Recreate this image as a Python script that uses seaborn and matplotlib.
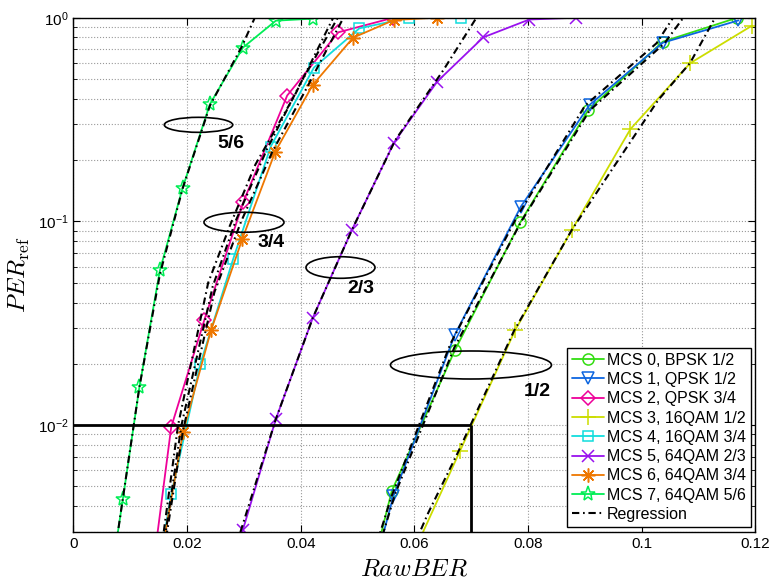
import seaborn as sns
import matplotlib.pyplot as plt
from matplotlib.patches import Ellipse
from matplotlib.ticker import NullFormatter

# Valores: RawBER (x) e PER_ref (y) de cada MCS
labels_mcs = ['MCS 0, BPSK 1/2', 'MCS 1, QPSK 1/2', 'MCS 2, QPSK 3/4', 'MCS 3, 16QAM 1/2',
              'MCS 4, 16QAM 3/4', 'MCS 5, 64QAM 2/3', 'MCS 6, 64QAM 3/4', 'MCS 7, 64QAM 5/6']

ber_mcs0 = [0.0520, 0.0560, 0.0671, 0.0786, 0.0906, 0.1037, 0.1168]
per_mcs0 = [0.0017, 0.00475, 0.0233, 0.0989, 0.353, 0.763, 1.0]
ber_mcs1 = [0.0520, 0.0563, 0.0671, 0.0787, 0.0908, 0.1037, 0.1170]
per_mcs1 = [0.0016, 0.0045, 0.0278, 0.118, 0.373, 0.754, 0.97]
ber_mcs2 = [0.0140, 0.0172, 0.0230, 0.0299, 0.0376, 0.0466, 0.0563]
per_mcs2 = [0.0020, 0.0098, 0.0327, 0.125, 0.415, 0.848, 1.0]
ber_mcs3 = [0.0590, 0.0680, 0.0777, 0.0877, 0.0980, 0.1085, 0.1193]
per_mcs3 = [0.0021, 0.00746, 0.0292, 0.091, 0.284, 0.598, 0.911]
ber_mcs4 = [0.0150, 0.0172, 0.0223, 0.0281, 0.0347, 0.0423, 0.0503, 0.0590, 0.0681]
per_mcs4 = [0.0020, 0.00457, 0.0199, 0.0654, 0.233, 0.569, 0.887, 1.0, 1.0]
ber_mcs5 = [0.0270, 0.0298, 0.0356, 0.0421, 0.0490, 0.0564, 0.0640, 0.0721, 0.0802, 0.0884]
per_mcs5 = [0.00167, 0.00306, 0.0107, 0.0336, 0.091, 0.244, 0.486, 0.801, 0.98, 1.0]
ber_mcs6 = [0.0150, 0.0193, 0.0242, 0.0297, 0.0355, 0.0421, 0.0492, 0.0564, 0.0640]
per_mcs6 = [0.00195, 0.0093, 0.0292, 0.082, 0.220, 0.468, 0.798, 0.975, 1.0]
ber_mcs7 = [0.0060, 0.0087, 0.0116, 0.0152, 0.0192, 0.0240, 0.0298, 0.0356, 0.0422]
per_mcs7 = [0.00138, 0.00436, 0.0154, 0.0575, 0.146, 0.376, 0.713, 0.967, 0.99]

# curvas de regressao
reg_ber_mcs0 = [0.0535, 0.0566, 0.0670, 0.0788, 0.0908, 0.1040, 0.1073]
reg_per_mcs0 = [0.0024, 0.0046, 0.024, 0.10, 0.35, 0.75, 1.0]
reg_ber_mcs1 = [0.0525, 0.0560, 0.0663, 0.0780, 0.0900, 0.1026, 0.1055]
reg_per_mcs1 = [0.0022, 0.0045, 0.025, 0.105, 0.37, 0.75, 1.0]
reg_ber_mcs2 = [0.0155, 0.0184, 0.0237, 0.0275, 0.0320, 0.0390, 0.0457]
reg_per_mcs2 = [0.0025, 0.01, 0.05, 0.095, 0.19, 0.42, 1.0]
reg_ber_mcs3 = [0.0600, 0.0624, 0.0677, 0.0775, 0.0877, 0.1029, 0.1085, 0.1129]
reg_per_mcs3 = [0.0026, 0.0037, 0.0074, 0.029, 0.091, 0.395, 0.6, 1.0]
reg_ber_mcs4 = [0.0160, 0.0190, 0.0245, 0.0285, 0.0340, 0.0400, 0.0465]
reg_per_mcs4 = [0.0027, 0.01, 0.048, 0.10, 0.225, 0.48, 1.0]
reg_ber_mcs5 = [0.0285, 0.0356, 0.0421, 0.0490, 0.0566, 0.0651, 0.0709]
reg_per_mcs5 = [0.0025, 0.0107, 0.0336, 0.091, 0.25, 0.554, 1.0]
reg_ber_mcs6 = [0.0163, 0.0193, 0.0248, 0.0295, 0.0350, 0.0410, 0.0475]
reg_per_mcs6 = [0.0028, 0.0095, 0.045, 0.10, 0.22, 0.45, 1.0]
reg_ber_mcs7 = [0.0075, 0.0087, 0.0116, 0.0152, 0.0192, 0.0240, 0.0296, 0.0319]
reg_per_mcs7 = [0.0026, 0.0044, 0.0154, 0.055, 0.145, 0.37, 0.72, 1.0]

per_alvo = 0.01
ber_limite = 0.07

x_ticks = [0, 0.02, 0.04, 0.06, 0.08, 0.10, 0.12]
x_tick_labels = ['0', '0.02', '0.04', '0.06', '0.08', '0.1', '0.12']
y_ticks = [1e-2, 1e-1, 1]
y_tick_labels = [r'$\mathregular{10^{-2}}$', r'$\mathregular{10^{-1}}$', r'$\mathregular{10^{0}}$']
taxas = ['5/6', '3/4', '2/3', '1/2']

sns.set_style('ticks')
plt.rcParams['font.family'] = ['Liberation Sans', 'DejaVu Sans']
plt.rcParams['mathtext.fontset'] = 'cm'
plt.rcParams['text.color'] = 'k'
plt.rcParams['axes.labelcolor'] = 'k'

cores = ['#33dd11', '#0d66e0', '#ee0099', '#ccdd00', '#11dddd', '#9911ee', '#ee7700', '#00ee55']
marcadores = ['o', 'v', 'D', '+', 's', 'x', (8, 2, 0), '*']
tamanhos = [8, 9, 7, 11, 7, 8, 10, 11]

bers = [ber_mcs0, ber_mcs1, ber_mcs2, ber_mcs3, ber_mcs4, ber_mcs5, ber_mcs6, ber_mcs7]
pers = [per_mcs0, per_mcs1, per_mcs2, per_mcs3, per_mcs4, per_mcs5, per_mcs6, per_mcs7]
reg_bers = [reg_ber_mcs0, reg_ber_mcs1, reg_ber_mcs2, reg_ber_mcs3,
            reg_ber_mcs4, reg_ber_mcs5, reg_ber_mcs6, reg_ber_mcs7]
reg_pers = [reg_per_mcs0, reg_per_mcs1, reg_per_mcs2, reg_per_mcs3,
            reg_per_mcs4, reg_per_mcs5, reg_per_mcs6, reg_per_mcs7]

fig, ax = plt.subplots(figsize=(7.72, 5.81), dpi=100)
fig.subplots_adjust(left=0.0952, right=0.9786, bottom=0.0849, top=0.9695)

for lab, b, p, cor, mk, ms in zip(labels_mcs, bers, pers, cores, marcadores, tamanhos):
    sns.lineplot(x=b, y=p, color=cor, marker=mk, markersize=ms, mec=cor, mfc='none', mew=1.1,
                 lw=1.3, sort=False, estimator=None, ax=ax, label=lab, zorder=2)

for i, (b, p) in enumerate(zip(reg_bers, reg_pers)):
    sns.lineplot(x=b, y=p, color='k', lw=1.5, linestyle=(0, (3.5, 1.8, 0.8, 1.8)), sort=False,
                 estimator=None, ax=ax, label='Regression' if i == 0 else None, zorder=3)

ax.set_yscale('log')
ax.set_xlim(0, 0.12)
ax.set_ylim(0.003, 1)

# limites de PER alvo
ax.hlines(per_alvo, 0, ber_limite, colors='k', lw=2, zorder=4)
ax.vlines(ber_limite, 0.003, per_alvo, colors='k', lw=2, zorder=4)

ax.set_xticks(x_ticks, labels=x_tick_labels)
ax.set_yticks(y_ticks, labels=y_tick_labels)
ax.yaxis.set_minor_formatter(NullFormatter())
ax.tick_params(which='both', direction='in', top=True, right=True, labelsize=11, colors='k')
ax.tick_params(which='major', length=5)
ax.tick_params(which='minor', length=3)
ax.grid(True, which='major', ls=':', color='#999999', lw=0.8)
ax.grid(True, which='minor', axis='y', ls=':', color='#999999', lw=0.8)
for s in ax.spines.values():
    s.set_color('k')
    s.set_linewidth(1.0)

ax.set_xlabel(r'$RawBER$', fontsize=18)
ax.set_ylabel(r'$PER_{\rm ref}$', fontsize=18)

# elipses agrupando as taxas de codificacao
elipses = [(0.1833, 0.7916, 0.1003, 0.0292), (0.25, 0.602, 0.1173, 0.0389),
           (0.3915, 0.514, 0.1012, 0.042), (0.5828, 0.3243, 0.2361, 0.0545)]
pos_txt = [(0.2309, 0.7562), (0.2896, 0.5636), (0.4216, 0.4738), (0.6796, 0.2737)]
for (cx, cy, w, h), (tx, ty), t in zip(elipses, pos_txt, taxas):
    ax.add_patch(Ellipse((cx, cy), w, h, transform=ax.transAxes, fill=False, ec='k', lw=1.2, zorder=5))
    ax.text(tx, ty, t, transform=ax.transAxes, ha='center', va='center', fontsize=14,
            fontweight='bold', color='k', zorder=5)

handles, labels = ax.get_legend_handles_labels()
leg = ax.legend(handles, labels, loc='lower right', fontsize=11.5, labelspacing=0.27,
                handlelength=2.0, handletextpad=0.2, borderpad=0.3, borderaxespad=0.3,
                fancybox=False, edgecolor='k', framealpha=1)
leg.get_frame().set_linewidth(1.0)

fig.savefig('out.png', dpi=100)
